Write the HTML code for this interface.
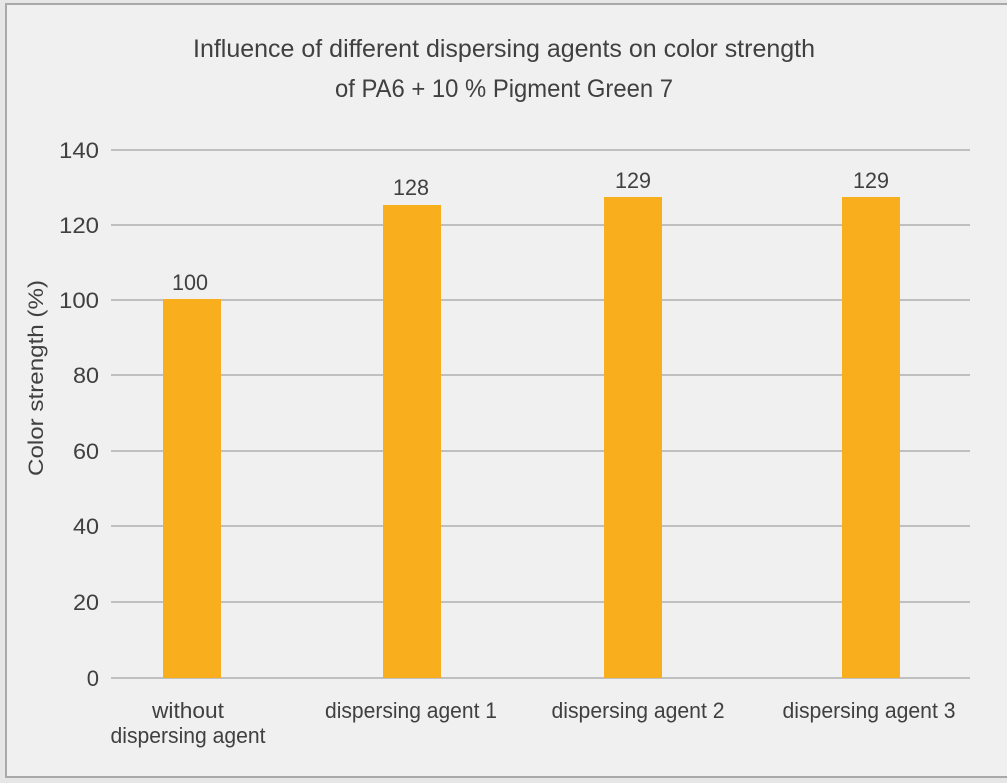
<!DOCTYPE html>
<html><head><style>
html,body{margin:0;padding:0;background:#e6e6e6;}
svg{display:block;font-family:"Liberation Sans Narrow","Liberation Sans",sans-serif;}
</style></head><body>
<svg width="1007" height="783" viewBox="0 0 1007 783">
<rect x="0" y="0" width="1007" height="783" fill="#e6e6e6"/>
<rect x="6" y="4" width="1003" height="773" fill="#f0f0f0" stroke="#a9a9a9" stroke-width="2"/>
<g fill="#404040" font-size="25" text-anchor="middle">
<text x="504" y="57" textLength="622" lengthAdjust="spacingAndGlyphs">Influence of different dispersing agents on color strength</text>
<text x="504" y="97" textLength="338" lengthAdjust="spacingAndGlyphs">of PA6 + 10 % Pigment Green 7</text>
</g>
<g stroke="#bfbfbf" stroke-width="2">
<line x1="111" x2="970" y1="150" y2="150"/>
<line x1="111" x2="970" y1="225" y2="225"/>
<line x1="111" x2="970" y1="300" y2="300"/>
<line x1="111" x2="970" y1="375" y2="375"/>
<line x1="111" x2="970" y1="451" y2="451"/>
<line x1="111" x2="970" y1="526" y2="526"/>
<line x1="111" x2="970" y1="602" y2="602"/>
<line x1="111" x2="970" y1="678" y2="678"/>
</g>
<g fill="#f9ae1e">
<rect x="163" y="299" width="58" height="379"/>
<rect x="383" y="205" width="58" height="473"/>
<rect x="604" y="197" width="58" height="481"/>
<rect x="842" y="197" width="58" height="481"/>
</g>
<g fill="#404040" font-size="22" text-anchor="end">
<text x="99" y="158" textLength="40" lengthAdjust="spacingAndGlyphs">140</text>
<text x="99" y="233" textLength="40" lengthAdjust="spacingAndGlyphs">120</text>
<text x="99" y="308" textLength="40" lengthAdjust="spacingAndGlyphs">100</text>
<text x="99" y="383" textLength="26" lengthAdjust="spacingAndGlyphs">80</text>
<text x="99" y="459" textLength="26" lengthAdjust="spacingAndGlyphs">60</text>
<text x="99" y="534" textLength="26" lengthAdjust="spacingAndGlyphs">40</text>
<text x="99" y="610" textLength="26" lengthAdjust="spacingAndGlyphs">20</text>
<text x="99" y="686">0</text>
</g>
<g fill="#404040" font-size="22" text-anchor="middle">
<text x="190" y="290" textLength="36" lengthAdjust="spacingAndGlyphs">100</text>
<text x="411" y="195" textLength="36" lengthAdjust="spacingAndGlyphs">128</text>
<text x="633" y="188" textLength="36" lengthAdjust="spacingAndGlyphs">129</text>
<text x="871" y="188" textLength="36" lengthAdjust="spacingAndGlyphs">129</text>
<text x="188" y="718" textLength="72" lengthAdjust="spacingAndGlyphs">without</text>
<text x="188" y="743" textLength="155" lengthAdjust="spacingAndGlyphs">dispersing agent</text>
<text x="411" y="718" textLength="172" lengthAdjust="spacingAndGlyphs">dispersing agent 1</text>
<text x="638" y="718" textLength="173" lengthAdjust="spacingAndGlyphs">dispersing agent 2</text>
<text x="869" y="718" textLength="173" lengthAdjust="spacingAndGlyphs">dispersing agent 3</text>
<text transform="translate(43,378) rotate(-90)" font-size="21" textLength="196" lengthAdjust="spacingAndGlyphs">Color strength (%)</text>
</g>
</svg>
</body></html>
